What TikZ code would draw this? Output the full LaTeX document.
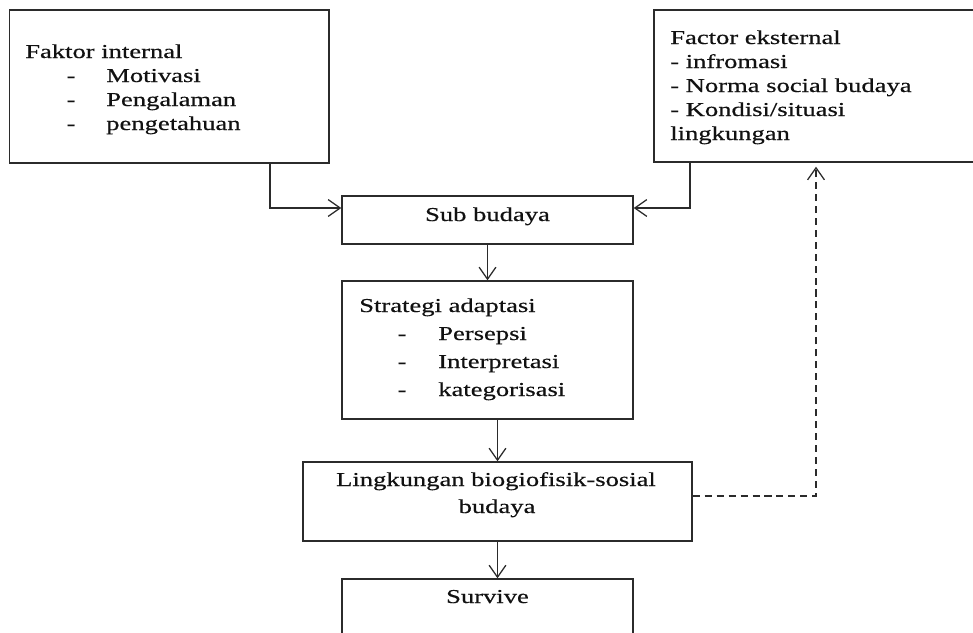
\documentclass[tikz,border=0pt]{standalone}
\usepackage{fontspec}
\setmainfont{Liberation Serif}[FakeStretch=1.35, FakeBold=0.5]
\usepackage{tikz}
\usepackage{xcolor}
\usetikzlibrary{
  positioning, arrows.meta,
}
\definecolor{cLine}{HTML}{2B2B2B}
\definecolor{cText}{HTML}{111111}

\begin{document}
\begin{tikzpicture}[x=0.025cm, y=-0.025cm,
    box/.style={draw=cLine, line width=1pt, inner sep=0pt},
    txt/.style={inner sep=0pt, text=cText, font=\fontsize{14}{17}\selectfont},
    arr/.style={-{Straight Barb[length=3mm, width=4.2mm]}, line width=0.9pt, draw=cLine},
  ]
        \useasboundingbox (0,0) rectangle (973,632);
        \clip (0,0) rectangle (973,632);
        % boxes
        \node[box, minimum width=7.99cm, minimum height=3.825cm] (intern)  at (169.25, 86.5) {};
        \node[box, minimum width=8.4cm,  minimum height=3.8cm]   (ekstern) at (822, 86) {};
        \node[box, minimum width=7.275cm, minimum height=1.2cm]  (sub)     at (487.5, 220) {};
        \node[box, minimum width=7.275cm, minimum height=3.45cm] (strat)   at (487.5, 350) {};
        \node[box, minimum width=9.725cm, minimum height=1.975cm] (ling)   at (497.5, 501.5) {};
        \node[box, minimum width=7.275cm, minimum height=2.025cm] (surv)   at (487.5, 619.5) {};
        % texts
        \node[txt, anchor=base west] (intern-h) at (25, 58) {Faktor internal};
        \foreach \lbl [count=\i] in {Motivasi, Pengalaman, pengetahuan}{
          \node[txt, anchor=base] (intern-d\i) at (71, 58+\i*24) {-};
          \node[txt, anchor=base west] (intern-i\i) at (106, 58+\i*24) {\lbl};
        }
        \foreach \lbl [count=\i from 0] in {Factor eksternal, - infromasi,
                                           - Norma social budaya, - Kondisi/situasi, lingkungan}{
          \node[txt, anchor=base west] (ekstern-l\i) at (670, 44+\i*24) {\lbl};
        }
        \node[txt, anchor=base] (sub-t) at (487.5, 221) {Sub budaya};
        \node[txt, anchor=base west] (strat-h) at (359, 312) {Strategi adaptasi};
        \foreach \lbl [count=\i] in {Persepsi, Interpretasi, kategorisasi}{
          \node[txt, anchor=base] (strat-d\i) at (402, 312+\i*28) {-};
          \node[txt, anchor=base west] (strat-i\i) at (438, 312+\i*28) {\lbl};
        }
        \node[txt, anchor=base] (ling-t1) at (496, 486) {Lingkungan biogiofisik-sosial};
        \node[txt, anchor=base] (ling-t2) at (497, 513) {budaya};
        \node[txt, anchor=base] (surv-t) at (487.5, 603) {Survive};
        % connectors
        \coordinate (inKnee) at (270, 208);
        \coordinate (exKnee) at (690, 208);
        \coordinate (fbKnee) at (816, 496);
        \draw[arr] (intern.south -| inKnee) -- (inKnee) -- (sub.west |- inKnee);
        \draw[arr] (ekstern.south -| exKnee) -- (exKnee) -- (sub.east |- exKnee);
        \draw[arr] (sub.south) -- (strat.north);
        \draw[arr] (strat.south -| ling.north) -- (ling.north);
        \draw[arr] (ling.south) -- (surv.north -| ling.south);
        \draw[arr, dash pattern=on 5pt off 3.5pt, shorten >=0.1cm]
              (ling.east |- fbKnee) -- (fbKnee) -- (ekstern.south -| fbKnee);
\end{tikzpicture}
\end{document}
